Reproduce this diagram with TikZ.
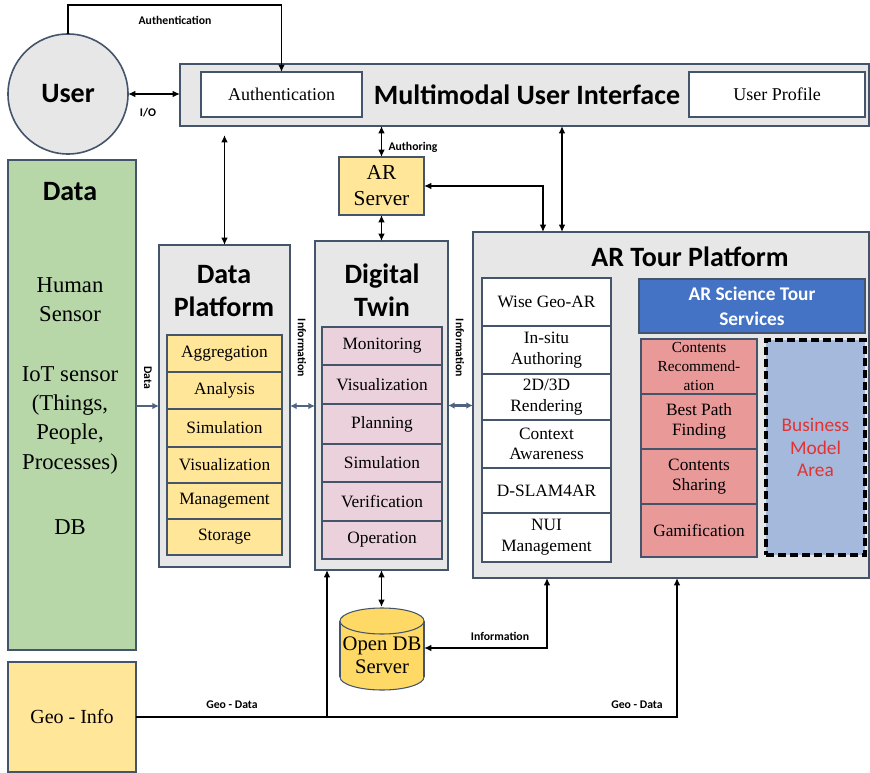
\documentclass[tikz,border=0pt]{standalone}
\usepackage{fontspec}
\setmainfont{Liberation Serif}
\newfontfamily\carl{Carlito}
\usetikzlibrary{arrows.meta}
\definecolor{bd}{RGB}{68,84,106}
\definecolor{panel}{RGB}{231,231,231}
\definecolor{grn}{RGB}{183,215,168}
\definecolor{yel}{RGB}{255,230,153}
\definecolor{dbyel}{RGB}{255,217,102}
\definecolor{pnk}{RGB}{234,209,220}
\definecolor{rpink}{RGB}{234,153,153}
\definecolor{blu}{RGB}{68,114,196}
\definecolor{bma}{RGB}{164,185,220}
\definecolor{redtxt}{RGB}{228,50,50}
\definecolor{barrow}{RGB}{80,100,130}
\newcommand\mybox[7][]{\node[#1, minimum width={(#5-#3)*0.75pt}, minimum height={(#6-#4)*0.75pt}] (#2) at ({(#3+#5)/2},{(#4+#6)/2}) {#7};}
\tikzset{
  base/.style={draw=bd, line width=0.8pt, inner sep=0pt, outer sep=0pt, align=center, text=black},
  panelbox/.style={base, fill=panel, line width=1.2pt},
  item/.style={base, font=\fontsize{13}{15.5}\selectfont},
  ttl/.style={font=\carl\bfseries\fontsize{21}{25}\selectfont, align=center, inner sep=0pt},
  lbl/.style={font=\carl\bfseries\fontsize{8.8}{10}\selectfont, inner sep=1pt},
  arr/.style={-{Latex[length=5.5pt,width=5pt]}, line width=1.4pt, black},
  dbl/.style={{Latex[length=5.5pt,width=5pt]}-{Latex[length=5.5pt,width=5pt]}, line width=1.4pt, black},
  barr/.style={-{Latex[length=5pt,width=5pt]}, line width=1.6pt, barrow},
  bdbl/.style={{Latex[length=5pt,width=5pt]}-{Latex[length=5pt,width=5pt]}, line width=1.6pt, barrow},
  body/.style={font=\fontsize{17}{22}\selectfont, align=center, inner sep=0pt}
}
\begin{document}
\begin{tikzpicture}[x=0.75pt,y=-0.75pt]
\useasboundingbox (0,0) rectangle (870,773);

% User
\node[circle, draw=bd, fill=panel, line width=1.2pt, minimum size=90pt, inner sep=0pt, outer sep=0pt, font=\carl\bfseries\fontsize{21}{25}\selectfont] (user) at (68,94) {User};

% Multimodal UI
\mybox[panelbox]{mui}{180}{64}{869}{126}{}
\mybox[item, fill=white, font=\fontsize{13.5}{16}\selectfont]{auth}{201}{72}{362}{117}{Authentication}
\node[ttl] (muit) at (527,95) {Multimodal User Interface};
\mybox[item, fill=white, font=\fontsize{13.5}{16}\selectfont]{prof}{689}{72}{865}{117}{User Profile}

% Data
\mybox[panelbox, fill=grn]{data}{8}{160}{136}{650}{}
\node[ttl] (datat) at (70,192) {Data};
\node[body] (d1) at (70,300) {Human\\Sensor};
\node[body] (d2) at (70,420) {IoT sensor\\(Things,\\People,\\Processes)};
\node[body] (d3) at (70,527) {DB};

% Geo-Info
\mybox[panelbox, fill=yel, font=\fontsize{15}{18}\selectfont]{geo}{8}{662}{136}{772}{Geo - Info}

% Data Platform
\mybox[panelbox]{dp}{159}{245}{290}{567}{}
\node[ttl] (dpt) at (224,291) {Data\\Platform};
\mybox[item, fill=yel]{dp1}{167}{335}{282}{372}{Aggregation}
\mybox[item, fill=yel]{dp2}{167}{372}{282}{409}{Analysis}
\mybox[item, fill=yel]{dp3}{167}{409}{282}{447}{Simulation}
\mybox[item, fill=yel]{dp4}{167}{447}{282}{483}{Visualization}
\mybox[item, fill=yel]{dp5}{167}{483}{282}{519}{Management}
\mybox[item, fill=yel]{dp6}{167}{519}{282}{555}{Storage}

% Digital Twin
\mybox[panelbox]{dt}{315}{241}{448}{570}{}
\node[ttl] (dtt) at (382,290) {Digital\\Twin};
\mybox[item, fill=pnk]{dt1}{322}{327}{442}{365}{Monitoring}
\mybox[item, fill=pnk]{dt2}{322}{365}{442}{404}{Visualization}
\mybox[item, fill=pnk]{dt3}{322}{404}{442}{444}{Planning}
\mybox[item, fill=pnk]{dt4}{322}{444}{442}{482}{Simulation}
\mybox[item, fill=pnk]{dt5}{322}{482}{442}{521}{Verification}
\mybox[item, fill=pnk]{dt6}{322}{521}{442}{559}{Operation}

% AR Server
\mybox[panelbox, fill=yel, font=\fontsize{16}{19.5}\selectfont]{ars}{339}{157}{424}{215}{AR\\Server}

% AR Tour Platform
\mybox[panelbox]{art}{473}{232}{869}{578}{}
\node[ttl] (artt) at (690,257) {AR Tour Platform};
\mybox[item, fill=white]{a1}{482}{278}{611}{326}{Wise Geo-AR}
\mybox[item, fill=white]{a2}{482}{326}{611}{374}{In-situ\\Authoring}
\mybox[item, fill=white]{a3}{482}{374}{611}{420}{2D/3D\\Rendering}
\mybox[item, fill=white]{a4}{482}{420}{611}{468}{Context\\Awareness}
\mybox[item, fill=white]{a5}{482}{468}{611}{513}{D-SLAM4AR}
\mybox[item, fill=white]{a6}{482}{513}{611}{562}{NUI\\Management}
\mybox[base, fill=blu, text=white, font=\carl\bfseries\fontsize{14.5}{19}\selectfont]{svc}{639}{279}{865}{333}{AR Science Tour\\Services}
\mybox[item, fill=rpink, font=\fontsize{11.5}{14}\selectfont]{s1}{641}{339}{757}{394}{Contents\\Recommend-\\ation}
\mybox[item, fill=rpink]{s2}{641}{394}{757}{449}{Best Path\\Finding}
\mybox[item, fill=rpink]{s3}{641}{449}{757}{504}{Contents\\Sharing}
\mybox[item, fill=rpink]{s4}{641}{504}{757}{557}{Gamification}
\mybox[base, draw=black, line width=2.5pt, dash pattern=on 6pt off 3pt, fill=bma, text=redtxt, font=\carl\fontsize{14.5}{17}\selectfont]{bma}{766}{340}{865}{555}{Business\\Model\\Area}

% Open DB Server (cylinder)
\filldraw[fill=dbyel, draw=bd, line width=0.8pt] (382,677) ellipse [x radius=31.5pt, y radius=9.75pt];
\fill[dbyel] (340,621) rectangle (424,677);
\draw[bd, line width=0.8pt] (340,621) -- (340,677) (424,621) -- (424,677);
\filldraw[fill=dbyel, draw=bd, line width=0.8pt] (382,621) ellipse [x radius=31.5pt, y radius=9.75pt];
\node[minimum width=63pt, minimum height=61.5pt, inner sep=0pt, outer sep=0pt] (db) at (382,648) {};
\node[font=\fontsize{15.5}{17.5}\selectfont, align=center, inner sep=0pt] (dbt) at (382,655) {Open DB\\Server};

% Connectors
\coordinate (top) at (175,5);
\draw[arr] (user.north) |- (top) -| (auth.north);
\node[lbl] (lauth) at (175,20) {Authentication};

\draw[dbl] (user.east) -- (user.east -| mui.west);
\node[lbl] (lio) at (148,113) {I/O};

\draw[dbl, shorten <=6.75pt] (dp.north |- mui.south) -- (dp.north);
\draw[dbl] (ars.north |- mui.south) -- (ars.north);
\node[lbl] (lautho) at (413,147) {Authoring};
\draw[dbl] (ars.south) -- (ars.south |- dt.north);

\coordinate (artA) at ([xshift=52.5pt]art.north west);
\coordinate (artB) at ([xshift=66.75pt]art.north west);
\draw[dbl] (ars.east) -| (artA);
\draw[dbl] (artB |- mui.south) -- (artB);

\draw[barr] (data.east |- dp.west) -- (dp.west);
\node[lbl, rotate=-90] (ldata) at (148,378) {Data};
\draw[bdbl] (dp.east) -- (dp.east -| dt.west);
\node[lbl, rotate=-90] (linf1) at (302,348) {Information};
\draw[bdbl] (dt.east) -- (dt.east -| art.west);
\node[lbl, rotate=-90] (linf2) at (460,348) {Information};

\draw[dbl] (dt.south) -- (dt.south |- db.north);

\coordinate (artC) at ([xshift=55.5pt]art.south west);
\coordinate (artD) at ([xshift=153pt]art.south west);
\coordinate (dtG) at ([xshift=9pt]dt.south west);
\draw[dbl] (artC) |- (db.east);
\node[lbl] (linf3) at (500,636) {Information};

\draw[arr] (geo.east) -| (dtG);
\draw[arr] (geo.east -| dtG) -| (artD);
\node[lbl] (lgeo1) at (232,705) {Geo - Data};
\node[lbl] (lgeo2) at (637,705) {Geo - Data};
\end{tikzpicture}
\end{document}
